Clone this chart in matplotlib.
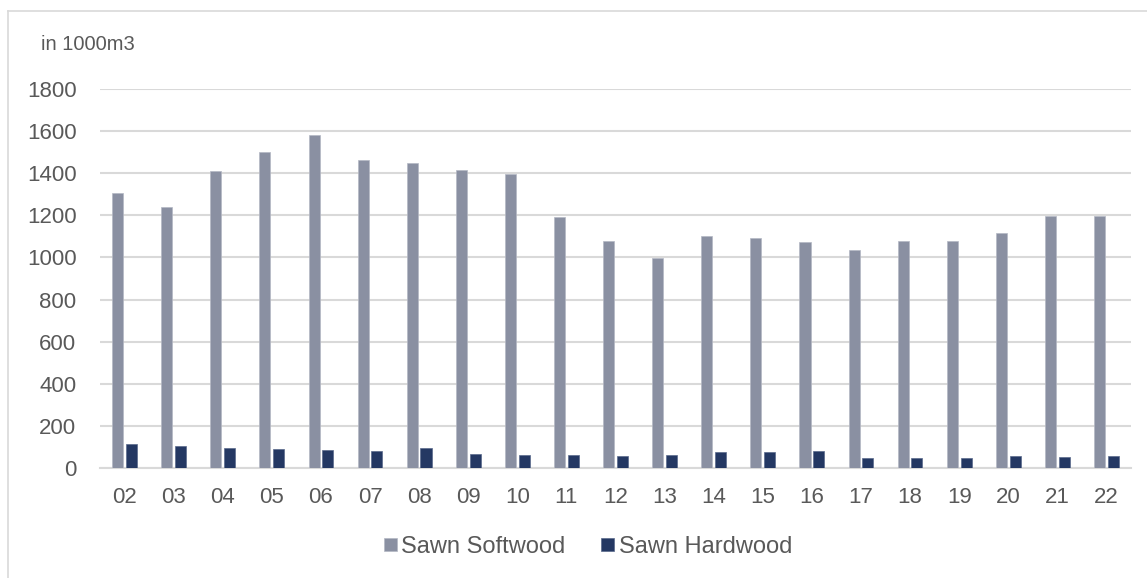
"""Sawn softwood / hardwood volumes, 2002-2022."""
import matplotlib
matplotlib.use("Agg")
import matplotlib.pyplot as plt
from matplotlib.lines import Line2D
import numpy as np

plt.rcParams["font.family"] = ["Liberation Sans", "DejaVu Sans"]

years = ["02", "03", "04", "05", "06", "07", "08", "09", "10", "11", "12",
         "13", "14", "15", "16", "17", "18", "19", "20", "21", "22"]
softwood = [1305, 1240, 1411, 1501, 1580, 1463, 1447, 1414, 1398, 1193, 1079,
            995, 1102, 1090, 1074, 1036, 1077, 1077, 1115, 1197, 1197]
hardwood = [115, 106, 96, 92, 87, 79, 95, 68, 60, 63, 59,
            60, 78, 76, 81, 49, 47, 49, 57, 54, 59]
y_ticks = [0, 200, 400, 600, 800, 1000, 1200, 1400, 1600, 1800]

SOFT_COL = "#8A90A2"
HARD_COL = "#243863"
GRID_COL = "#D9D9D9"
TEXT_COL = "#595959"

W, H = 1147, 578
fig = plt.figure(figsize=(W / 100, H / 100), dpi=100)
ax = fig.add_axes([100 / W, 1 - 468 / H, 1031 / W, 379 / H])

x = np.arange(len(years))
bw = 0.225
ax.bar(x - 0.14, softwood, bw, color=SOFT_COL, edgecolor="#B4B8C4",
       linewidth=0.5, label="Sawn Softwood", zorder=3)
ax.bar(x + 0.14, hardwood, bw, color=HARD_COL, edgecolor="#5A6A8C",
       linewidth=0.5, label="Sawn Hardwood", zorder=3)

ax.set_xlim(-0.5, len(years) - 0.5)
ax.set_ylim(0, 1800)
ax.set_yticks(y_ticks)
ax.set_xticks(x)
ax.set_xticklabels(years)
ax.yaxis.grid(True, color=GRID_COL, linewidth=1.5, zorder=0)
ax.set_axisbelow(True)
for s in ["top", "right", "left"]:
    ax.spines[s].set_visible(False)
ax.spines["bottom"].set_color(GRID_COL)
ax.spines["bottom"].set_linewidth(1.5)
ax.tick_params(axis="y", length=0, pad=17, labelsize=16, labelcolor=TEXT_COL)
ax.tick_params(axis="x", length=0, pad=14, labelsize=16, labelcolor=TEXT_COL)

fig.text(41 / W, 1 - 44 / H, "in 1000m3", fontsize=14.5, color=TEXT_COL,
         ha="left", va="center")

leg = fig.legend(loc="center", bbox_to_anchor=(588 / W, 1 - 547 / H), ncol=2,
                 frameon=False, fontsize=17, handlelength=0.55,
                 handleheight=0.47, handletextpad=0.2, columnspacing=1.5)
for t in leg.get_texts():
    t.set_color(TEXT_COL)

# light frame round the chart
fig.add_artist(Line2D([8 / W, 1], [1 - 11 / H, 1 - 11 / H], color=GRID_COL, lw=1.2))
fig.add_artist(Line2D([8 / W, 8 / W], [0, 1 - 11 / H], color=GRID_COL, lw=1.2))

fig.savefig("out.png", dpi=100)
